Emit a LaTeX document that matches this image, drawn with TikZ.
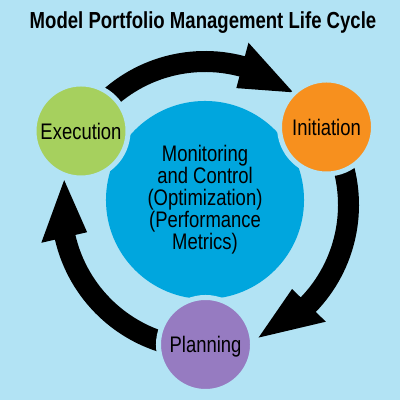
\documentclass[tikz,border=0pt]{standalone}
\usepackage{fontspec}
\setmainfont{Liberation Sans}
\newfontfamily\narrowfont[FakeStretch=0.82]{Liberation Sans}
\newfontfamily\titlefont[FakeStretch=0.80]{Liberation Sans}
\usepackage{tikz}
\definecolor{backblue}{RGB}{178,227,244}
\definecolor{monblue}{RGB}{0,166,222}
\definecolor{execgreen}{RGB}{166,208,94}
\definecolor{initorange}{RGB}{247,144,30}
\definecolor{planpurple}{RGB}{150,123,193}

\begin{document}
\begin{tikzpicture}[x=0.025cm,y=0.025cm,
  stage/.style={circle,draw=backblue,line width=0.125cm,minimum size=2.35cm,inner sep=0pt,
    font=\narrowfont\fontsize{16}{16}\selectfont,text height=11.5pt,text depth=0pt}]
 \fill[backblue] (0,0) rectangle (400,400);
 \useasboundingbox (0,0) rectangle (400,400);
 \node[font=\titlefont\bfseries\fontsize{16.5}{16.5}\selectfont,text height=12pt,text depth=0pt] (title) at (203,380) {Model Portfolio Management Life Cycle};
 \node[circle,fill=monblue,minimum size=4.95cm,inner sep=0pt,align=center,
   font=\narrowfont\fontsize{16}{15.7}\selectfont] (monitor) at (205,200)
   {Monitoring\\and Control\\(Optimization)\\(Performance\\Metrics)};
 \coordinate (hub) at (205,195);
 % the three arrows, clockwise
 \begin{scope}[shift={(hub)}]
 \foreach \s/\b/\t in {140/75/52, 20/-44/-68, 260/193/170}
   \fill (\s:154) arc[start angle=\s,end angle=\b,radius=154] -- (\b:168) -- (\t:143)
     -- (\b:121) -- (\b:133) arc[start angle=\b,end angle=\s,radius=133] -- cycle;
 \end{scope}
 \node[stage,fill=execgreen] (exec) at (81,269) {Execution};
 \node[stage,fill=initorange] (init) at (326.5,273) {Initiation};
 \node[stage,fill=planpurple] (plan) at (205.5,55.5) {Planning};
\end{tikzpicture}
\end{document}
